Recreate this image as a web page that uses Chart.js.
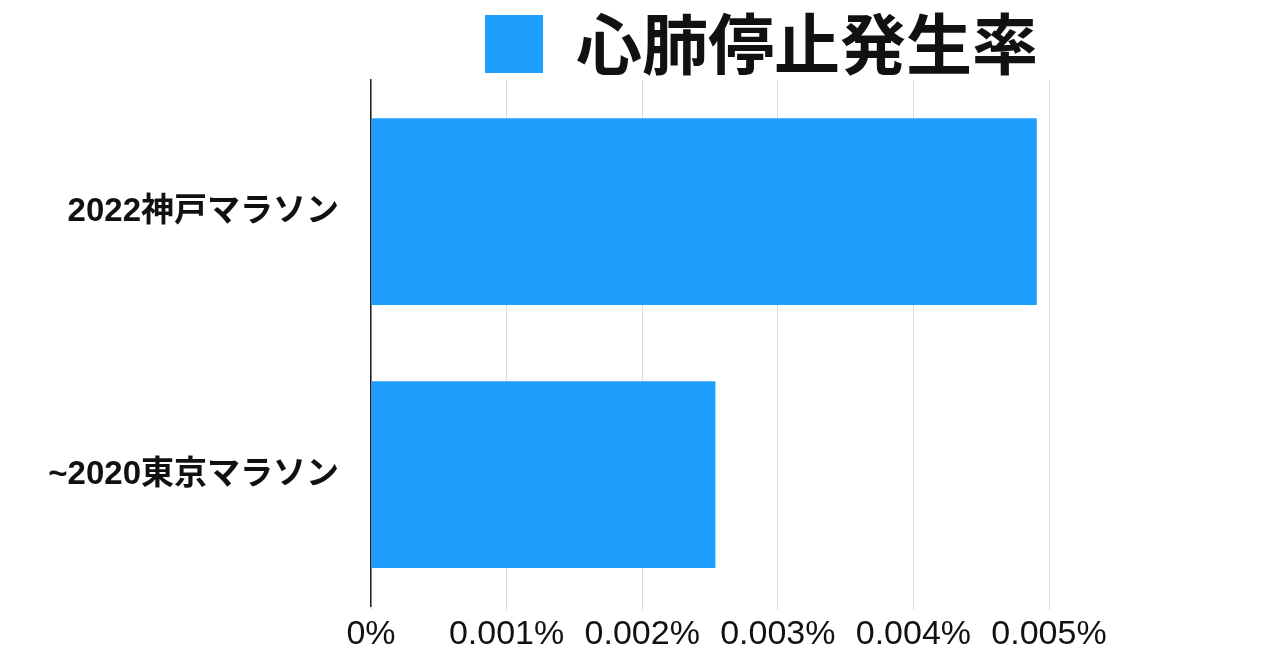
<!DOCTYPE html>
<html lang="ja">
<head>
<meta charset="utf-8">
<title>心肺停止発生率</title>
<script src="https://cdn.jsdelivr.net/npm/chart.js@4.4.1/dist/chart.umd.min.js"></script>
<style>
  html, body { margin: 0; padding: 0; background: #fff; }
  #wrap { width: 1280px; height: 669px; }
</style>
</head>
<body>
<div id="wrap"><canvas id="chart"></canvas></div>
<script>
// ── Data (values in percent) ────────────────────────────
const categories = ["2022神戸マラソン", "~2020東京マラソン"];
const seriesLabel = "心肺停止発生率";
const rateValues = [0.00491, 0.00254];
const tickValues = [0, 0.001, 0.002, 0.003, 0.004, 0.005];

const BLUE = "#1f9ffd";
const LATIN_JP = "'Liberation Sans', 'Noto Sans CJK JP', sans-serif";

const fmtPct = (v) => (v === 0 ? "0%" : v.toFixed(3) + "%");

new Chart(document.getElementById("chart"), {
  type: "bar",
  data: {
    labels: categories,
    datasets: [
      {
        label: seriesLabel,
        data: rateValues,
        backgroundColor: BLUE,
        borderWidth: 0,
        categoryPercentage: 1,
        barPercentage: 0.71,
      },
    ],
  },
  options: {
    indexAxis: "y",
    responsive: true,
    maintainAspectRatio: false,
    animation: false,
    layout: { padding: { left: 0, right: 231, top: 0, bottom: 10 } },
    plugins: {
      tooltip: { enabled: false },
      legend: {
        position: "top",
        align: "end",
        maxHeight: 80,
        labels: {
          boxWidth: 58,
          boxHeight: 58,
          padding: 11,
          color: "#111",
          font: { family: "'Noto Sans CJK JP', sans-serif", size: 66, weight: "bold" },
        },
      },
    },
    scales: {
      x: {
        min: 0,
        max: 0.005,
        afterBuildTicks: (scale) => {
          scale.ticks = tickValues.map((v) => ({ value: v }));
        },
        ticks: {
          callback: (v) => fmtPct(v),
          color: "#111",
          padding: 4,
          maxRotation: 0,
          font: { family: LATIN_JP, size: 34 },
        },
        grid: { color: "#dcdcdc", lineWidth: 1, tickLength: 4 },
        border: { display: false },
      },
      y: {
        afterFit: (scale) => { scale.width = 371; },
        ticks: {
          color: "#111",
          padding: 32,
          font: { family: LATIN_JP, size: 33, weight: "bold" },
        },
        grid: { display: false, drawTicks: false },
        border: { display: true, color: "#222", width: 1.5 },
      },
    },
  },
});
</script>
</body>
</html>
